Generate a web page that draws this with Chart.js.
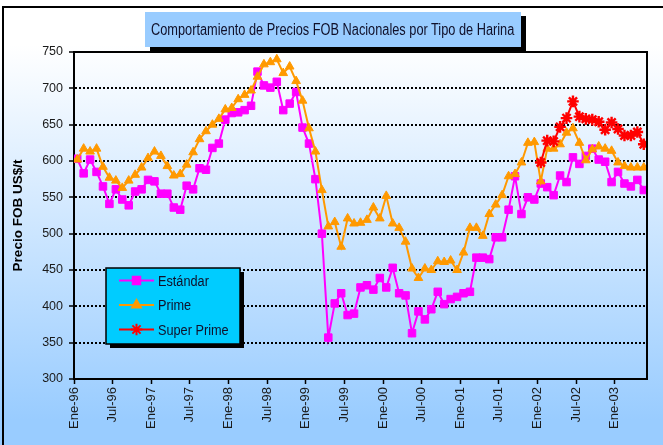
<!DOCTYPE html>
<html>
<head>
<meta charset="utf-8">
<script src="https://cdn.jsdelivr.net/npm/chart.js@4.4.0/dist/chart.umd.min.js"></script>
<style>
  html, body { margin: 0; padding: 0; }
  body {
    width: 663px; height: 445px; overflow: hidden; position: relative;
    background: linear-gradient(#ffffff 0px, #ffffff 45px, #99ccff 420px);
  }
  #frame {
    position: absolute; left: 2px; top: 6px; width: 700px; height: 500px;
    border: 2px solid #000;
  }
  #wrap { position: absolute; left: 0; top: 0; width: 663px; height: 445px; }
  #title {
    position: absolute; left: 145px; top: 12px; width: 376px; height: 35px;
    background: #99ccff; box-shadow: 5px 4px 0 #000;
    display: flex; align-items: center; justify-content: center; overflow: visible;
  }
  #title span {
    display: inline-block; white-space: nowrap; transform-origin: center;
    font: 16px 'Liberation Sans', Arial, sans-serif; color: #10102a;
  }
</style>
</head>
<body>
<div id="frame"></div>
<div id="wrap"><canvas id="chart"></canvas></div>
<div id="title"><span>Comportamiento de Precios FOB Nacionales por Tipo de Harina</span></div>
<script>
// monthly prices, Ene-96 .. May-03 (US$/t)
const estandar = [
  603, 583, 602, 585, 565, 541, 561, 547, 539, 558, 561, 574,
  572, 555, 555, 536, 533, 566, 561, 590, 588, 618, 624, 657,
  666, 667, 670, 676, 723, 704, 701, 709, 670, 679, 695, 646,
  624, 575, 500, 357, 404, 418, 388, 390, 426, 429, 423, 439,
  426, 453, 418, 415, 363, 393, 382, 396, 420, 403, 410, 413,
  418, 420, 467, 467, 465, 495, 495, 533, 579, 527, 550, 547,
  569, 564, 553, 580, 571, 605, 596, 607, 617, 602, 599, 571,
  585, 569, 565, 574, 560
];
const prime = [
  602, 617, 613, 617, 592, 577, 573, 563, 573, 581, 591, 604,
  613, 607, 593, 580, 582, 595, 612, 630, 641, 650, 658, 671,
  673, 685, 691, 697, 716, 733, 736, 740, 721, 730, 710, 683,
  645, 613, 560, 510, 516, 482, 521, 514, 515, 519, 536, 521,
  552, 514, 508, 489, 452, 439, 452, 450, 462, 461, 463, 450,
  474, 508, 508, 497, 527, 540, 553, 579, 582, 598, 625, 626,
  572, 617, 617, 623, 639, 645, 625, 601, 616, 620, 617, 614,
  598, 593, 591, 591, 591
];
// Super Prime starts in Ene-02 (month index 72)
const superPrimeStart = 72;
const superPrime = [
  598, 628, 627, 647, 659, 682, 661, 658, 657, 654, 643, 653,
  644, 635, 635, 640, 623
];
const seriesNames = ['Estándar', 'Prime', 'Super Prime'];
const tickLabels = [
  'Ene-96', 'Jul-96', 'Ene-97', 'Jul-97', 'Ene-98', 'Jul-98', 'Ene-99', 'Jul-99',
  'Ene-00', 'Jul-00', 'Ene-01', 'Jul-01', 'Ene-02', 'Jul-02', 'Ene-03'
];
const monthsPerTick = 6;

const regular = "'Liberation Sans', Arial, sans-serif";

// no narrow font available: squeeze the title to the width it has in the original
const titleSpan = document.querySelector('#title span');
titleSpan.style.transform = 'scaleX(' + (363 / titleSpan.offsetWidth) + ')';

const frameLines = {
  id: 'frameLines',
  afterDraw(chart) {
    const { ctx, chartArea: a } = chart;
    ctx.save();
    ctx.strokeStyle = '#000';
    ctx.lineWidth = 2;
    ctx.beginPath();
    ctx.moveTo(a.left, a.top);
    ctx.lineTo(a.right, a.top);
    ctx.lineTo(a.right, a.bottom);
    ctx.stroke();
    ctx.restore();
  }
};

const boxLegend = {
  id: 'boxLegend',
  afterDraw(chart) {
    const { ctx } = chart;
    const x = 106, y = 268, w = 134, h = 76;
    ctx.save();
    ctx.fillStyle = '#000';
    ctx.fillRect(x + 4, y + 4, w, h);
    ctx.fillStyle = '#00ccff';
    ctx.fillRect(x, y, w, h);
    ctx.strokeStyle = '#000';
    ctx.lineWidth = 1.5;
    ctx.strokeRect(x, y, w, h);
    chart.data.datasets.forEach((ds, i) => {
      const ly = y + 12.5 + i * 24.5;
      ctx.strokeStyle = ds.borderColor;
      ctx.fillStyle = ds.backgroundColor;
      ctx.lineWidth = 2;
      ctx.beginPath();
      ctx.moveTo(x + 13, ly);
      ctx.lineTo(x + 48, ly);
      ctx.stroke();
      Chart.helpers.drawPoint(ctx, {
        pointStyle: ds.pointStyle, radius: ds.pointRadius, borderWidth: ds.pointBorderWidth
      }, x + 30.5, ly);
      ctx.save();
      ctx.translate(x + 52, ly + 1);
      ctx.scale(0.82, 1);
      ctx.fillStyle = '#10102a';
      ctx.font = '15.5px ' + regular;
      ctx.textBaseline = 'middle';
      ctx.textAlign = 'left';
      ctx.fillText(ds.label, 0, 0);
      ctx.restore();
    });
    ctx.restore();
  }
};

new Chart(document.getElementById('chart'), {
  type: 'line',
  data: {
    datasets: [
      {
        label: seriesNames[0],
        data: estandar.map((v, i) => ({ x: i, y: v })),
        borderColor: '#ff00ff', backgroundColor: '#ff00ff',
        borderWidth: 2, pointStyle: 'rect', pointRadius: 5.3, pointBorderWidth: 1,
        order: 3
      },
      {
        label: seriesNames[1],
        data: prime.map((v, i) => ({ x: i, y: v })),
        borderColor: '#ff9900', backgroundColor: '#ff9900',
        borderWidth: 2, pointStyle: 'triangle', pointRadius: 5, pointBorderWidth: 1,
        order: 2
      },
      {
        label: seriesNames[2],
        data: superPrime.map((v, i) => ({ x: superPrimeStart + i, y: v })),
        borderColor: '#ff0000', backgroundColor: '#ff0000',
        borderWidth: 2, pointStyle: 'star', pointRadius: 5.8, pointBorderWidth: 2.4,
        order: 1
      }
    ]
  },
  options: {
    responsive: true,
    maintainAspectRatio: false,
    animation: false,
    events: [],
    layout: { padding: { top: 52, right: 16, left: 0, bottom: 0 } },
    elements: { line: { tension: 0 } },
    plugins: {
      legend: { display: false },
      tooltip: { enabled: false }
    },
    scales: {
      x: {
        type: 'linear',
        min: -0.5,
        max: estandar.length - 0.5,
        afterFit: s => { s.height = 66; },
        afterBuildTicks: s => {
          s.ticks = tickLabels.map((_, k) => ({ value: k * monthsPerTick - 0.5 }));
        },
        grid: { drawOnChartArea: false, tickLength: 5, tickColor: '#000', tickWidth: 1.5 },
        border: { display: true, color: '#000', width: 2 },
        ticks: {
          autoSkip: false, minRotation: 90, maxRotation: 90, padding: 3,
          color: '#1a1a1a',
          font: { family: regular, size: 13 },
          callback: v => tickLabels[Math.round((v + 0.5) / monthsPerTick)]
        }
      },
      y: {
        min: 300,
        max: 750,
        afterFit: s => { s.width = 74; },
        title: {
          display: true, text: 'Precio FOB US$/t', color: '#000',
          font: { family: regular, size: 13.5, weight: 'bold' },
          padding: { top: 10, bottom: 0 }
        },
        grid: {
          color: ctx => (ctx.tick && (ctx.tick.value === 300 || ctx.tick.value === 750)) ? 'rgba(0,0,0,0)' : '#000',
          lineWidth: 2, tickLength: 5, tickColor: '#000', tickWidth: 1.5
        },
        border: { display: true, color: '#000', width: 2, dash: [2, 2] },
        ticks: {
          stepSize: 50, padding: 6, color: '#1a1a1a',
          font: { family: regular, size: 12.5 }
        }
      }
    }
  },
  plugins: [frameLines, boxLegend]
});
</script>
</body>
</html>
